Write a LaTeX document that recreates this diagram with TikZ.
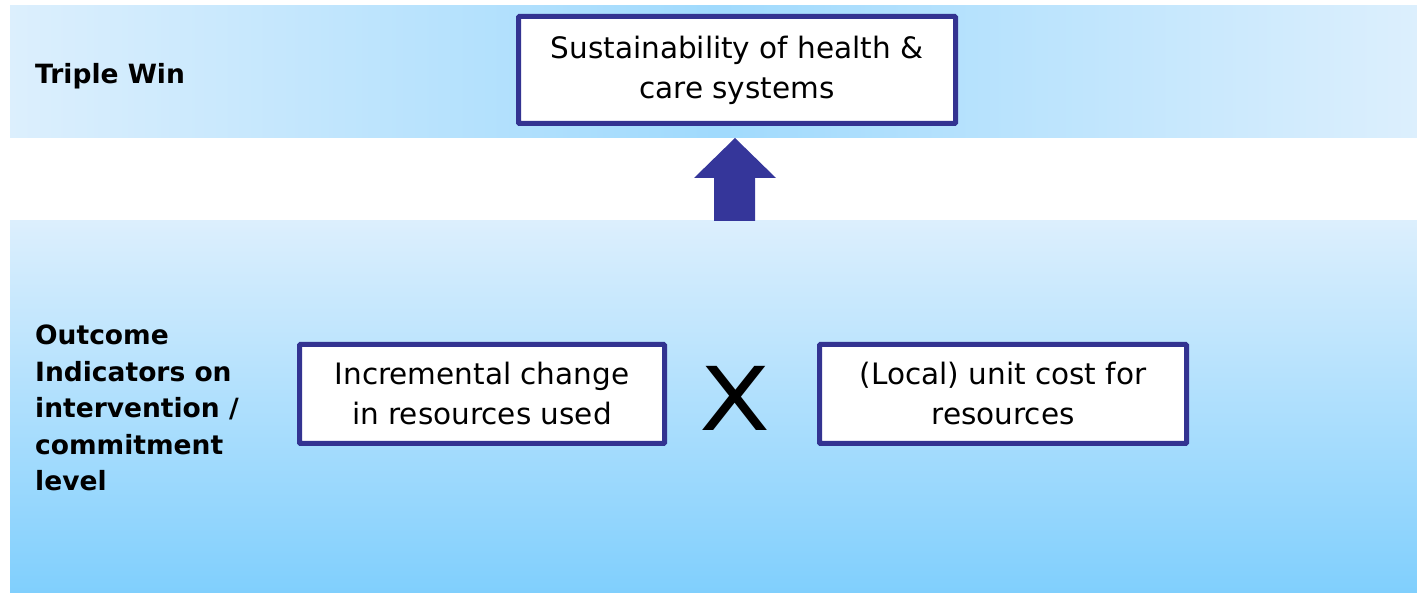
\documentclass[tikz,border=0pt]{standalone}
\usepackage{fontspec}
\setmainfont{DejaVu Sans}
\usetikzlibrary{positioning}
\definecolor{boxblue}{HTML}{333391}
\definecolor{arrowblue}{HTML}{35369A}
\definecolor{paleblue}{HTML}{DCEFFD}
\definecolor{skyblue}{HTML}{A0DAFD}
\definecolor{deepsky}{HTML}{80CFFD}

\begin{document}
\begin{tikzpicture} [
  x=1pt, y=-1pt,
  resource/.style={rectangle,draw=boxblue,line width=5pt,fill=white,
    rounded corners=1pt,align=center,inner sep=0pt,
    font=\fontsize{29.5}{40}\selectfont},
  level/.style={anchor=west,align=left,inner sep=0pt,
    font=\bfseries\fontsize{26.5}{36.5}\selectfont}]

\useasboundingbox (0,0) rectangle (1417,593);

% bands
\shade[left color=paleblue, right color=paleblue, middle color=skyblue]
  (10,6) rectangle (1417,138);
\shade[top color=paleblue, bottom color=deepsky]
  (10,221) rectangle (1417,593);

% level labels
\node[level] (win) at (35,76) {Triple Win};
\node[level] (outcome) at (35,408) {Outcome\\Indicators on\\intervention /\\commitment\\level};

% boxes
\node[resource, minimum width=437pt, minimum height=107pt] (goal) at (737,70)
  {Sustainability of health \&\\care systems};
\node[resource, minimum width=365pt, minimum height=99pt] (change) at (482,394)
  {Incremental change\\in resources used};
\node[resource, minimum width=367pt, minimum height=99pt] (cost) at (1003,394)
  {(Local) unit cost for\\resources};
\node[font=\fontsize{88}{88}\selectfont, xscale=1.18] (times) at (735,398) {X};

% arrow up
\fill[arrowblue] (714,221) -- (714,178) -- (694,178) -- (735,138)
  -- (776,178) -- (755,178) -- (755,221) -- cycle;
\end{tikzpicture}
\end{document}
